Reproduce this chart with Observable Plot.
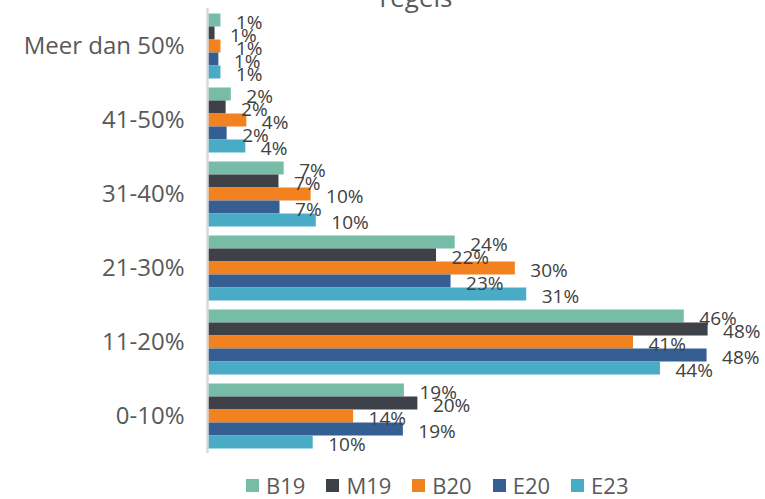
<!DOCTYPE html>
<html>
<head>
<meta charset="utf-8">
<script src="https://cdn.jsdelivr.net/npm/d3@7"></script>
<script src="https://cdn.jsdelivr.net/npm/@observablehq/plot@0.6"></script>
<style>
  body { margin: 0; background: #fff; font-family: "Open Sans", sans-serif; width: 765px; height: 499px; overflow: hidden; position: relative; }
  #title { position: absolute; left: 316px; width: 200px; top: -16px; text-align: center; font-size: 26px; line-height: 1; color: #595959; z-index: 2; }
  #legend { position: absolute; left: 246px; top: 472px; display: flex; align-items: center; font-size: 22px; line-height: 26px; color: #595959; }
  .item { display: flex; align-items: center; margin-right: 21px; }
  .sw { width: 13px; height: 13px; margin-right: 7px; }
</style>
</head>
<body>
<div id="title">regels</div>
<div id="chart"></div>
<div id="legend"></div>
<script>
const categories = ["Meer dan 50%", "41-50%", "31-40%", "21-30%", "11-20%", "0-10%"];
const seriesNames = ["B19", "M19", "B20", "E20", "E23"];
const colors = ["#76BCA6", "#3E4148", "#F1821F", "#355F93", "#4AABC6"];
const B19 = [1.2, 2.2, 7.3, 23.8, 45.9, 18.9];
const M19 = [0.63, 1.7, 6.8, 22.0, 48.2, 20.2];
const B20 = [1.2, 3.7, 9.9, 29.6, 41.0, 14.0];
const E20 = [1.0, 1.8, 6.9, 23.4, 48.1, 18.8];
const E23 = [1.2, 3.6, 10.4, 30.7, 43.6, 10.1];

const seriesValues = [B19, M19, B20, E20, E23];
const data = [];
categories.forEach((c, i) => {
  seriesNames.forEach((s, j) => {
    data.push({category: c, series: s, value: seriesValues[j][i]});
  });
});

const chart = Plot.plot({
  width: 765,
  height: 462,
  marginLeft: 208,
  marginRight: 18,
  marginTop: 12.5,
  marginBottom: 13.5,
  style: {fontFamily: "Open Sans", fontSize: "24px", color: "#595959", background: "transparent"},
  x: {domain: [0, 52], axis: null},
  y: {domain: seriesNames, axis: null, padding: 0},
  fy: {domain: categories, axis: "left", padding: 0.116, tickSize: 0, tickPadding: 24, label: null},
  color: {domain: seriesNames, range: colors},
  marks: [
    Plot.barX(data, {x: "value", y: "series", fy: "category", fill: "series"}),
    Plot.ruleX([0], {stroke: "#D9D9D9", strokeWidth: 2.5, insetTop: -5, insetBottom: -5, dx: -1}),
    Plot.text(data, {
      x: "value", y: "series", fy: "category",
      text: d => Math.round(d.value) + "%",
      textAnchor: "start", dx: 15, dy: 2,
      fontSize: 19, fill: "#404040"
    })
  ]
});
document.getElementById("chart").appendChild(chart);

const legend = document.getElementById("legend");
seriesNames.forEach((s, j) => {
  const item = document.createElement("div");
  item.className = "item";
  const sw = document.createElement("div");
  sw.className = "sw";
  sw.style.background = colors[j];
  const t = document.createElement("span");
  t.textContent = s;
  item.appendChild(sw);
  item.appendChild(t);
  legend.appendChild(item);
});
</script>
</body>
</html>
